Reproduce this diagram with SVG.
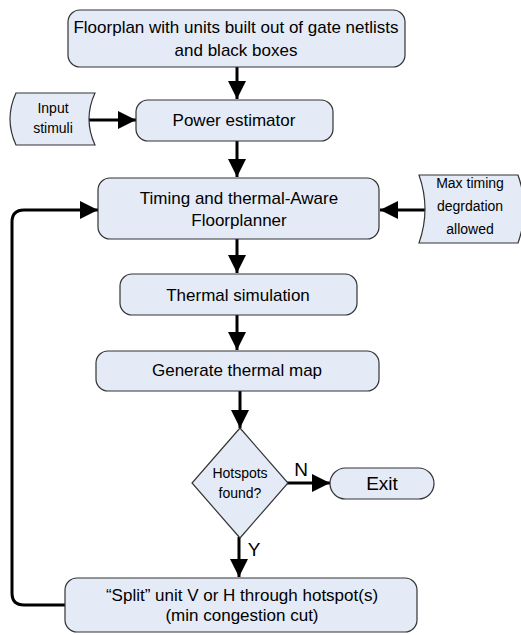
<svg xmlns="http://www.w3.org/2000/svg" width="521" height="635" viewBox="0 0 521 635">
<style>
.box{fill:#E4EBF6;stroke:#333;stroke-width:1.2}
.t{font-family:"Liberation Sans",Arial,sans-serif;font-size:17px;fill:#000;text-anchor:middle}
.s{font-family:"Liberation Sans",Arial,sans-serif;font-size:14px;fill:#000;text-anchor:middle}
.l{font-family:"Liberation Sans",Arial,sans-serif;font-size:19px;fill:#000;text-anchor:middle}
.c{fill:none;stroke:#000;stroke-width:3}
</style>
<defs>
<marker id="ah" viewBox="0 0 10 10" refX="10" refY="5" markerWidth="6" markerHeight="6" markerUnits="strokeWidth" orient="auto">
<path d="M0,0 L10,5 L0,10 Z" fill="#000"/>
</marker>
</defs>
<rect width="521" height="635" fill="#fff"/>
<g id="connectors">
<line class="c" x1="237" y1="67" x2="237" y2="99" marker-end="url(#ah)"/>
<line class="c" x1="88" y1="120" x2="136" y2="120" marker-end="url(#ah)"/>
<line class="c" x1="237" y1="141" x2="237" y2="177" marker-end="url(#ah)"/>
<line class="c" x1="427" y1="210" x2="380" y2="210" marker-end="url(#ah)"/>
<line class="c" x1="237" y1="239" x2="237" y2="273" marker-end="url(#ah)"/>
<line class="c" x1="237" y1="315" x2="237" y2="350" marker-end="url(#ah)"/>
<line class="c" x1="240" y1="391" x2="240" y2="428" marker-end="url(#ah)"/>
<line class="c" x1="287" y1="483" x2="330" y2="483" marker-end="url(#ah)"/>
<line class="c" x1="239" y1="537" x2="239" y2="577" marker-end="url(#ah)"/>
<path class="c" d="M65,605 L24,605 Q12,605 12,593 L12,222 Q12,210 24,210 L98,210" marker-end="url(#ah)"/>
</g>
<g id="n-floorplan">
<rect class="box" x="68" y="10" width="337" height="57" rx="12"/>
<text class="t" x="236" y="33">Floorplan with units built out of gate netlists</text>
<text class="t" x="236" y="56">and black boxes</text>
</g>
<g id="n-input">
<path class="box" d="M16,93 L95,93 Q83,119 95,145 L16,145 Q4,119 16,93 Z"/>
<text class="s" x="53" y="113">Input</text>
<text class="s" x="53" y="133">stimuli</text>
</g>
<g id="n-power">
<rect class="box" x="136" y="100" width="197" height="41" rx="12"/>
<text class="t" x="234" y="126">Power estimator</text>
</g>
<g id="n-timing">
<rect class="box" x="98" y="178" width="281" height="61" rx="12"/>
<text class="t" x="239" y="204">Timing and thermal-Aware</text>
<text class="t" x="239" y="226">Floorplanner</text>
</g>
<g id="n-maxtiming">
<path class="box" d="M419,175 L518,175 Q530,209 518,243 L419,243 Q431,209 419,175 Z"/>
<text class="s" x="470" y="188">Max timing</text>
<text class="s" x="470" y="211">degrdation</text>
<text class="s" x="470" y="234">allowed</text>
</g>
<g id="n-thermalsim">
<rect class="box" x="120" y="274" width="237" height="41" rx="12"/>
<text class="t" x="238" y="301">Thermal simulation</text>
</g>
<g id="n-genmap">
<rect class="box" x="96" y="351" width="283" height="40" rx="12"/>
<text class="t" x="237" y="376">Generate thermal map</text>
</g>
<g id="n-hotspots">
<path class="box" d="M240,428 L288,483 L240,538 L192,483 Z"/>
<text class="s" x="240" y="478">Hotspots</text>
<text class="s" x="240" y="498">found?</text>
</g>
<g id="n-exit">
<rect class="box" x="330" y="468" width="104" height="31" rx="15.5"/>
<text class="l" x="382" y="490">Exit</text>
</g>
<g id="n-split">
<rect class="box" x="65" y="578" width="352" height="54" rx="12"/>
<text class="t" x="242" y="601">“Split” unit V or H through hotspot(s)</text>
<text class="t" x="242" y="621">(min congestion cut)</text>
</g>
<g id="labels">
<text class="l" x="301" y="476">N</text>
<text class="l" x="254" y="556">Y</text>
</g>
</svg>
